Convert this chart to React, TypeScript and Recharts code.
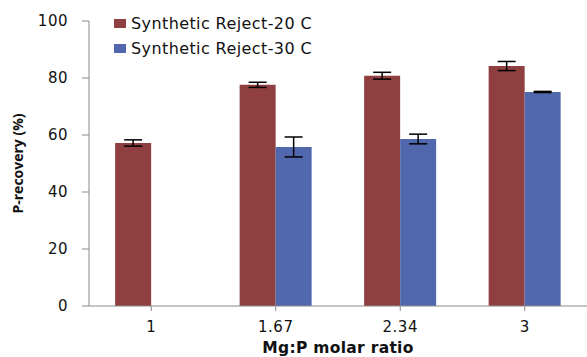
import React from "react";
import { BarChart, Bar, XAxis, YAxis, ErrorBar } from "recharts";

const ratios = ["1", "1.67", "2.34", "3"];
const reject20 = [57.2, 77.6, 80.8, 84.2];
const reject20Err = [1.1, 0.9, 1.2, 1.6];
const reject30: (number | null)[] = [null, 55.8, 58.6, 75.1];
const reject30Err: (number | null)[] = [null, 3.5, 1.7, 0.2];
const yTicks = [0, 20, 40, 60, 80, 100];

const RED = "#8F3F3F";
const BLUE = "#5268AE";
const AXIS = "#8a8a8a";

const rows = ratios.map((r, i) => ({
  ratio: r,
  r20: reject20[i],
  r20e: reject20Err[i],
  r30: reject30[i],
  r30e: reject30Err[i]
}));

const legendItems = [
  { label: "Synthetic Reject-20 C", color: RED },
  { label: "Synthetic Reject-30 C", color: BLUE }
];

// legend sits inside the plot, top-left, like the original
function LegendBox() {
  return (
    <div
      style={{
        position: "absolute",
        left: 114,
        top: 11,
        fontFamily: "DejaVu Sans",
        fontSize: 16,
        letterSpacing: 0.4,
        color: "#111"
      }}
    >
      {legendItems.map((it) => (
        <div key={it.label} style={{ display: "flex", alignItems: "center", height: 25 }}>
          <span style={{ width: 12, height: 9, background: it.color, marginRight: 5, display: "inline-block" }} />
          <span>{it.label}</span>
        </div>
      ))}
    </div>
  );
}

export default function App() {
  return (
    <div style={{ position: "absolute", left: 0, top: 0, width: 587, height: 357, background: "#fff" }}>
      <BarChart
        width={587}
        height={357}
        data={rows}
        margin={{ top: 21, right: 0, left: 0, bottom: 0 }}
        barCategoryGap="21%"
        barGap={0}
      >
        <XAxis
          dataKey="ratio"
          height={51}
          stroke={AXIS}
          tickSize={5}
          tickMargin={10}
          tick={{ fill: "#111", fontSize: 15, fontFamily: "DejaVu Sans", letterSpacing: 0.5 }}
          label={{
            value: "Mg:P molar ratio",
            position: "insideBottom",
            offset: 4,
            fill: "#111",
            fontSize: 15.5,
            fontWeight: "bold",
            fontFamily: "DejaVu Sans",
            letterSpacing: 0.3
          }}
        />
        <YAxis
          width={89}
          domain={[0, 100]}
          ticks={yTicks}
          stroke={AXIS}
          tickSize={7}
          tickMargin={14}
          tick={{ fill: "#111", fontSize: 15, fontFamily: "DejaVu Sans", letterSpacing: 0.5 }}
          label={{
            value: "P-recovery (%)",
            angle: -90,
            position: "insideLeft",
            offset: 18,
            fill: "#111",
            fontSize: 14,
            fontWeight: "bold",
            fontFamily: "Open Sans",
            style: { textAnchor: "middle" }
          }}
        />
        <Bar dataKey="r20" fill={RED} isAnimationActive={false}>
          <ErrorBar dataKey="r20e" width={9} stroke="#000" strokeWidth={1.5} />
        </Bar>
        <Bar dataKey="r30" fill={BLUE} isAnimationActive={false}>
          <ErrorBar dataKey="r30e" width={9} stroke="#000" strokeWidth={1.5} />
        </Bar>
      </BarChart>
      <LegendBox />
    </div>
  );
}
